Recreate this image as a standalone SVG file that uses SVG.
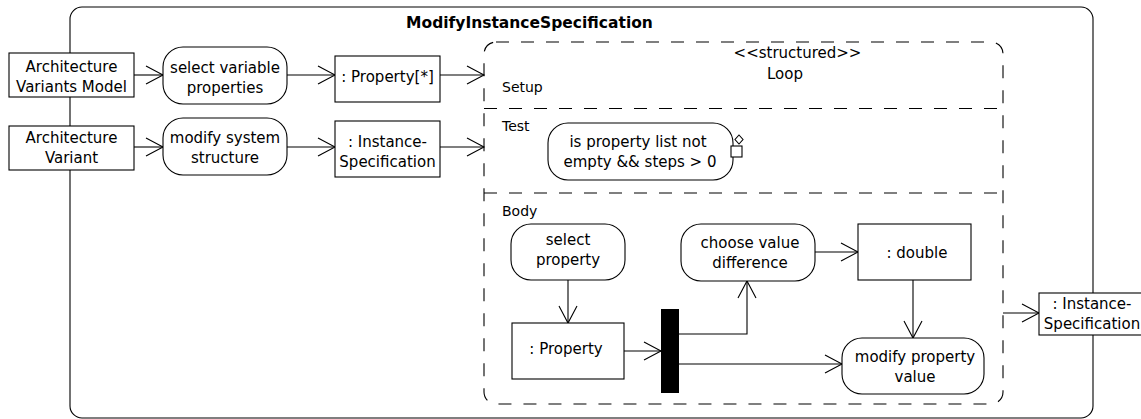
<svg xmlns="http://www.w3.org/2000/svg" width="1141" height="419" viewBox="0 0 1141 419">
  <style>
    .frame{fill:#fff;stroke:#000;stroke-width:1.1}
    .box{fill:#fff;stroke:#000;stroke-width:1.1}
    .dash{fill:none;stroke:#000;stroke-width:1.1;stroke-dasharray:13 12}
    .edge{fill:none;stroke:#000;stroke-width:1.1;marker-end:url(#open)}
    .bar{fill:#000;stroke:none}
    text{font-family:"DejaVu Sans",sans-serif;font-size:15px;fill:#000}
    .c{text-anchor:middle}
    .lbl{font-size:14px}
    .title{font-weight:bold;font-size:15.5px}
  </style>
  <defs>
    <marker id="open" markerUnits="userSpaceOnUse" markerWidth="20" markerHeight="20" refX="17" refY="9" orient="auto" overflow="visible">
      <path d="M0,0 L17,9 L0,18" fill="none" stroke="#000" stroke-width="1.1"/>
    </marker>
  </defs>

  <!-- activity frame -->
  <g id="activity">
    <rect class="frame" x="70" y="7" width="1023" height="411" rx="12"/>
    <text class="title c" x="529.5" y="28">ModifyInstanceSpecification</text>
  </g>

  <!-- loop node with its three sections -->
  <g id="loop">
    <rect class="dash" x="484" y="42" width="519" height="362" rx="12"/>
    <line class="dash" x1="484" y1="108.5" x2="1003" y2="108.5"/>
    <line class="dash" x1="484" y1="193" x2="1003" y2="193"/>
    <text class="c" x="797.5" y="58">&lt;&lt;structured&gt;&gt;</text>
    <text class="c" x="785" y="79">Loop</text>
    <text class="lbl" x="502" y="92">Setup</text>
    <text class="lbl" x="502" y="131">Test</text>
    <text class="lbl" x="502" y="216">Body</text>
  </g>

  <!-- connectors -->
  <g id="connectors">
    <path class="edge" d="M134,75 H163"/>
    <path class="edge" d="M287,75 H335"/>
    <path class="edge" d="M440,75 H484"/>
    <path class="edge" d="M134,147 H163"/>
    <path class="edge" d="M287,147 H335"/>
    <path class="edge" d="M440,147 H484"/>
    <path class="edge" d="M568,280 V323"/>
    <path class="edge" d="M624,351 H661"/>
    <path class="edge" d="M679,334 H747 V281"/>
    <path class="edge" d="M815,252 H858"/>
    <path class="edge" d="M913,280 V338"/>
    <path class="edge" d="M679,364 H842"/>
    <path class="edge" d="M1003,313 H1039"/>
  </g>

  <!-- input parameters -->
  <g id="avm">
    <rect class="box" x="9" y="53" width="125" height="44"/>
    <text class="c" x="71.5" y="72">Architecture</text>
    <text class="c" x="71.5" y="92">Variants Model</text>
  </g>
  <g id="av">
    <rect class="box" x="9" y="126" width="125" height="44"/>
    <text class="c" x="71.5" y="143">Architecture</text>
    <text class="c" x="71.5" y="163">Variant</text>
  </g>

  <!-- actions before the loop -->
  <g id="selectVariable">
    <rect class="box" x="163" y="47" width="124" height="57" rx="20"/>
    <text class="c" x="225" y="72.5">select variable</text>
    <text class="c" x="225" y="93">properties</text>
  </g>
  <g id="modifySystem">
    <rect class="box" x="163" y="118" width="124" height="57" rx="20"/>
    <text class="c" x="225" y="142.5">modify system</text>
    <text class="c" x="225" y="163">structure</text>
  </g>
  <g id="propertyList">
    <rect class="box" x="335" y="56" width="105" height="46"/>
    <text class="c" x="387.5" y="81.5">: Property[*]</text>
  </g>
  <g id="instanceIn">
    <rect class="box" x="335" y="121" width="105" height="56"/>
    <text class="c" x="387.5" y="146.5">: Instance-</text>
    <text class="c" x="387.5" y="166.5">Specification</text>
  </g>

  <!-- test section -->
  <g id="testCondition">
    <rect class="box" x="548" y="123" width="185" height="57" rx="20"/>
    <text class="c" x="638" y="147">is property list not</text>
    <text class="c" x="640" y="167">empty &amp;&amp; steps &gt; 0</text>
    <path class="box" d="M739,135 L743,139.5 L739,144 L735,139.5 Z"/>
    <rect class="box" x="731" y="146" width="11" height="11"/>
  </g>

  <!-- body section -->
  <g id="selectProperty">
    <rect class="box" x="511" y="224" width="114" height="56" rx="20"/>
    <text class="c" x="568" y="245">select</text>
    <text class="c" x="568" y="265">property</text>
  </g>
  <g id="property">
    <rect class="box" x="512" y="323" width="112" height="56"/>
    <text class="c" x="566" y="354">: Property</text>
  </g>
  <g id="fork">
    <rect class="bar" x="661" y="309" width="18" height="84"/>
  </g>
  <g id="chooseValue">
    <rect class="box" x="681" y="224" width="134" height="57" rx="20"/>
    <text class="c" x="750" y="248">choose value</text>
    <text class="c" x="750" y="268">difference</text>
  </g>
  <g id="double">
    <rect class="box" x="858" y="224" width="113" height="56"/>
    <text class="c" x="917" y="258">: double</text>
  </g>
  <g id="modifyProperty">
    <rect class="box" x="842" y="338" width="142" height="56" rx="20"/>
    <text class="c" x="915" y="362">modify property</text>
    <text class="c" x="915" y="382">value</text>
  </g>

  <!-- output parameter -->
  <g id="instanceOut">
    <rect class="box" x="1039" y="293" width="106" height="42"/>
    <text class="c" x="1092" y="308.5">: Instance-</text>
    <text class="c" x="1092" y="328.5">Specification</text>
  </g>
</svg>
